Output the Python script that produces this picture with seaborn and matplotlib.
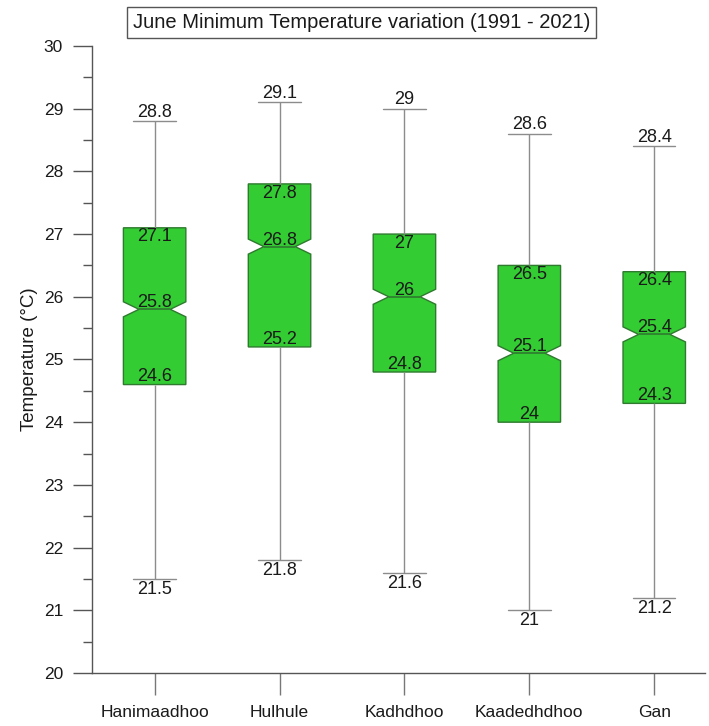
import matplotlib
matplotlib.use("Agg")
import matplotlib.pyplot as plt
import seaborn as sns
import pandas as pd

# ---- data ----
stations = ["Hanimaadhoo", "Hulhule", "Kadhdhoo", "Kaadedhdhoo", "Gan"]
t_min = [21.5, 21.8, 21.6, 21.0, 21.2]
t_q1 = [24.6, 25.2, 24.8, 24.0, 24.3]
t_med = [25.8, 26.8, 26.0, 25.1, 25.4]
t_q3 = [27.1, 27.8, 27.0, 26.5, 26.4]
t_max = [28.8, 29.1, 29.0, 28.6, 28.4]
notch_lo = [25.68, 26.68, 25.88, 24.98, 25.28]
notch_hi = [25.92, 26.92, 26.12, 25.22, 25.52]
y_ticks = [20, 21, 22, 23, 24, 25, 26, 27, 28, 29, 30]

rows = []
for s, a, b, c, d, e in zip(stations, t_min, t_q1, t_med, t_q3, t_max):
    for v in (a, b, c, d, e):
        rows.append({"Station": s, "Temperature": v})
df = pd.DataFrame(rows)

sns.set_style("ticks")
plt.rcParams["font.family"] = ["Liberation Sans", "DejaVu Sans"]

fig = plt.figure(figsize=(7.09, 7.26), dpi=100)
ax = fig.add_axes([0.130, 0.073, 0.865, 0.8637])

_orig_bxp = ax.bxp
def _bxp_with_notches(*args, **kwargs):
    stats = kwargs.get("bxpstats", args[0] if args else None)
    for st, lo, hi in zip(stats, notch_lo, notch_hi):
        st["cilo"], st["cihi"] = lo, hi
    kwargs["capwidths"] = 0.34
    return _orig_bxp(*args, **kwargs)
ax.bxp = _bxp_with_notches

face = "#33CC33"
edge = "#2F7A2F"
grey = "#8C8C8C"
sns.boxplot(data=df, x="Station", y="Temperature", order=stations, ax=ax,
            notch=True, whis=(0, 100), width=0.5, color=face,
            saturation=1, linewidth=1.0, showfliers=False,
            boxprops=dict(facecolor=face, edgecolor=edge, linewidth=1.0),
            medianprops=dict(color=edge, linewidth=1.2),
            whiskerprops=dict(color=grey, linewidth=1.0),
            capprops=dict(color=grey, linewidth=1.0))
ax.bxp = _orig_bxp

# value labels
fs = 13
tc = "#1a1a1a"
for i in range(len(stations)):
    ax.annotate(f"{t_max[i]:g}", (i, t_max[i]), xytext=(0, 0.5), textcoords="offset points",
                ha="center", va="bottom", fontsize=fs, color=tc)
    ax.annotate(f"{t_min[i]:g}", (i, t_min[i]), xytext=(0, -1.5), textcoords="offset points",
                ha="center", va="top", fontsize=fs, color=tc)
    ax.annotate(f"{t_q3[i]:g}", (i, t_q3[i]), xytext=(0, -0.5), textcoords="offset points",
                ha="center", va="top", fontsize=fs, color=tc)
    ax.annotate(f"{t_med[i]:g}", (i, t_med[i]), xytext=(0, -1.5), textcoords="offset points",
                ha="center", va="bottom", fontsize=fs, color=tc)
    ax.annotate(f"{t_q1[i]:g}", (i, t_q1[i]), xytext=(0, -0.5), textcoords="offset points",
                ha="center", va="bottom", fontsize=fs, color=tc)

ax.set_ylim(20, 30)
ax.set_xlim(-0.5, 4.41)
ax.set_yticks(y_ticks)
ax.set_yticks([y + 0.5 for y in y_ticks[:-1]], minor=True)
ax.set_xlabel("")
ax.set_ylabel("Temperature (°C)", fontsize=13.5, color=tc, labelpad=4)

sns.despine(ax=ax)
for sp in ("left", "bottom"):
    ax.spines[sp].set_color("#555555")
    ax.spines[sp].set_linewidth(1.0)
ax.tick_params(axis="y", which="major", length=14, width=1.0, color="#555555",
               labelsize=12.5, labelcolor=tc, pad=7)
ax.tick_params(axis="y", which="minor", length=6.5, width=1.0, color="#555555")
ax.tick_params(axis="x", which="major", length=16, width=1.0, color="#777777",
               labelsize=12.5, labelcolor=tc, pad=7)

fig.text(0.51, 0.969, "June Minimum Temperature variation (1991 - 2021)",
         ha="center", va="center", fontsize=14.5, color=tc,
         bbox=dict(boxstyle="square,pad=0.3", facecolor="white", edgecolor="#555555", linewidth=1.0))

fig.savefig("out.png", dpi=100)
